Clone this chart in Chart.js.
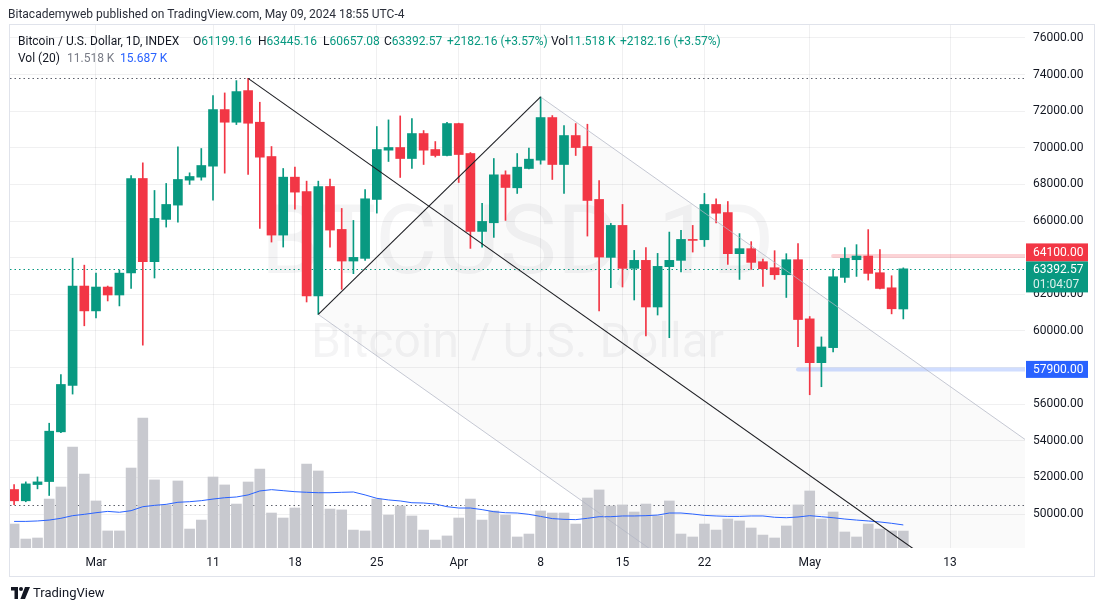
<!DOCTYPE html>
<html>
<head>
<meta charset="utf-8">
<script src="https://cdn.jsdelivr.net/npm/chart.js@4.4.1/dist/chart.umd.min.js"></script>
<style>
  body { margin: 0; background: #fff; }
  #wrap { position: relative; width: 1102px; height: 612px; font-family: Roboto, "Liberation Sans", sans-serif; color: #131722; }
  #wrap canvas { position: absolute; left: 0; top: 0; }
  .t { position: absolute; font-size: 12px; white-space: nowrap; line-height: 14px; }
  .g { color: #089981; }
  .gr { color: #787b86; }
  .b { color: #2962ff; }
</style>
</head>
<body>
<div id="wrap">
  <canvas id="chart" width="1102" height="612"></canvas>
  <div class="t" style="left:8px;top:7px;color:#2a2e39">Bitacademyweb published on TradingView.com, May 09, 2024 18:55 UTC-4</div>
  <div class="t" style="left:18px;top:34px">Bitcoin / U.S. Dollar, 1D, INDEX</div>
  <div class="t" style="left:193px;top:34px">O<span class="g">61199.16</span></div>
  <div class="t" style="left:258px;top:34px">H<span class="g">63445.16</span></div>
  <div class="t" style="left:323px;top:34px">L<span class="g">60657.08</span></div>
  <div class="t" style="left:384px;top:34px">C<span class="g">63392.57</span></div>
  <div class="t g" style="left:447px;top:34px">+2182.16 (+3.57%)</div>
  <div class="t" style="left:551px;top:34px">Vol<span class="g">11.518 K</span></div>
  <div class="t g" style="left:620px;top:34px">+2182.16 (+3.57%)</div>
  <div class="t" style="left:18px;top:51px">Vol (20)</div>
  <div class="t gr" style="left:67px;top:51px">11.518 K</div>
  <div class="t b" style="left:120px;top:51px">15.687 K</div>
  <svg style="position:absolute;left:11px;top:587px" width="20" height="12" viewBox="0 0 20 12">
    <path d="M0 0h7v12h-3.5v-8.5h-3.5z" fill="#131722"/>
    <circle cx="10" cy="2" r="2" fill="#131722"/>
    <path d="M14 0h5l-5 12h-4.6z" fill="#131722"/>
  </svg>
  <div class="t" style="left:33px;top:586px;font-size:13px">TradingView</div>
</div>
<script>
// index 0 = 2024-02-23, one candle per day up to 2024-05-09
var open = [51339, 50723, 51611, 51774, 54489, 57023, 62452, 61095, 62398, 61964,
  63164, 68327, 63782, 66091, 66873, 68236, 68400, 69000, 72091, 71400,
  73127, 71400, 69527, 65236, 68400, 67618, 61909, 67891, 65545, 63818,
  63964, 67182, 69873, 70018, 69418, 70782, 69909, 69582, 71327, 69691,
  65436, 65909, 68527, 67818, 68873, 69327, 71655, 69091, 70673, 70073,
  67182, 64018, 65764, 63418, 63855, 61309, 63509, 63855, 65000, 64982,
  66909, 66466, 64220, 64494, 63782, 63453, 63070, 63891, 60660, 58268,
  59089, 62924, 63891, 64092, 63180, 62357, 61199.16];
var high = [51610, 51756, 52027, 54960, 57620, 63973, 63593, 63158, 62452, 63321,
  68490, 69182, 67673, 68055, 70054, 68636, 69964, 72855, 73000, 73673,
  73794, 72491, 70073, 68873, 68945, 68182, 68182, 68291, 66691, 66036,
  67727, 71164, 71527, 71745, 71600, 70945, 70345, 71400, 71350, 69745,
  66964, 69418, 68745, 69691, 69982, 72780, 71764, 71218, 71327, 71291,
  68218, 65873, 66909, 64400, 64560, 64236, 65400, 65491, 65764, 67509,
  67215, 67069, 65316, 64877, 63928, 64384, 64220, 64768, 60787, 59674,
  63380, 64549, 64713, 65535, 64439, 63015, 63445.16];
var low = [50506, 50670, 51375, 51013, 54450, 56552, 60281, 60715, 61638, 61367,
  62327, 59224, 62891, 65673, 65945, 68000, 68236, 67145, 68618, 71273,
  68545, 65600, 64855, 64582, 66655, 61582, 60900, 64582, 62273, 63127,
  63855, 66436, 69255, 68382, 68873, 69091, 69500, 69560, 68109, 64509,
  64582, 65109, 66036, 67509, 68850, 69109, 68273, 67509, 69582, 65182,
  61091, 62364, 62400, 61691, 59725, 60870, 59630, 63218, 64309, 64618,
  65900, 63636, 62814, 63362, 62430, 62814, 61828, 59144, 56515, 56953,
  58852, 62650, 62978, 62778, 62300, 60933, 60657.08];
var close = [50723, 51647, 51756, 54525, 57077, 62452, 61095, 62398, 61964, 63158,
  68327, 63782, 66146, 66909, 68273, 68436, 69036, 72091, 71400, 73073,
  71345, 69491, 65236, 68400, 67582, 61909, 67891, 65509, 63818, 64018,
  67218, 69909, 70018, 69418, 70782, 69873, 69582, 71327, 69636, 65436,
  65982, 68527, 67836, 68945, 69382, 71655, 69091, 70673, 70018, 67127,
  64036, 65764, 63418, 63855, 61309, 63527, 63855, 65000, 64945, 66909,
  66430, 64220, 64494, 63745, 63398, 63070, 63891, 60623, 58268, 59126,
  62960, 63964, 64092, 63143, 62321, 61210.41, 63392.57];
// volume in thousands
var volume = [16.3, 6.1, 6.8, 33.3, 41.5, 68.7, 50.3, 32.0, 11.6, 11.6,
  54.4, 88.4, 46.3, 29.3, 45.6, 12.9, 19.0, 48.3, 42.9, 29.9,
  44.9, 53.7, 23.8, 20.4, 27.2, 57.1, 52.4, 26.5, 25.9, 12.2,
  11.6, 33.3, 22.4, 28.6, 21.8, 12.2, 5.4, 8.2, 20.4, 33.3,
  19.0, 25.2, 22.4, 7.5, 9.5, 25.2, 23.8, 23.8, 16.3, 34.0,
  39.5, 28.6, 29.3, 24.5, 29.9, 21.8, 32.0, 9.5, 7.5, 16.3,
  12.2, 19.7, 18.4, 13.6, 8.8, 6.8, 15.0, 29.3, 38.8, 19.7,
  24.5, 10.9, 7.5, 16.3, 12.9, 11.6, 11.518];
var volMA = [18.1, 18.1, 18.4, 19.0, 20.2, 22.0, 22.9, 24.0, 24.9, 24.3,
  25.4, 28.1, 29.0, 29.7, 31.1, 31.5, 32.2, 33.3, 34.2, 34.7,
  36.1, 38.8, 39.7, 39.0, 38.3, 37.9, 37.6, 37.6, 37.9, 38.1,
  36.1, 33.8, 32.7, 32.0, 30.8, 30.6, 29.9, 28.1, 27.2, 27.2,
  26.1, 24.7, 24.0, 23.8, 22.9, 21.5, 20.0, 19.5, 19.3, 20.2,
  21.3, 21.3, 21.8, 21.8, 22.0, 22.4, 23.8, 23.8, 23.1, 22.2,
  21.8, 21.5, 21.5, 21.8, 21.8, 20.9, 20.6, 21.1, 22.0, 21.3,
  20.6, 19.7, 19.0, 18.4, 17.7, 16.8, 15.687];

var dateTickIdx = [7, 17, 24, 31, 38, 45, 52, 59, 68, 80];
var dateTickLabels = ['Mar', '11', '18', '25', 'Apr', '8', '15', '22', 'May', '13'];
var priceTicks = [50000, 52000, 54000, 56000, 58000, 60000, 62000, 64000, 66000, 68000, 70000, 72000, 74000, 76000];

// drawings (day index, price)
var trendDown = [[20, 73794], [80, 46685]];
var trendUp = [[26, 60900], [45, 72780]];
var channelSlope = -451.8; // price per day
var resistance = 64100, resistanceFrom = 70;
var support = 57900, supportFrom = 67;
var countdown = '01:04:07';

var GREEN = '#089981', RED = '#f23645';
var FONT = 'Roboto, "Liberation Sans", sans-serif';

var colors = close.map(function (c, i) { return c >= open[i] ? GREEN : RED; });
var bodies = open.map(function (o, i) { return { x: i, y: [o, close[i]] }; });
var wicks = low.map(function (l, i) { return { x: i, y: [l, high[i]] }; });
var vols = volume.map(function (v, i) { return { x: i, y: v }; });
var mas = volMA.map(function (v, i) { return { x: i, y: v }; });
var hiPrice = Math.max.apply(null, high), loPrice = Math.min.apply(null, low);
var last = close[close.length - 1];

function clipArea(ctx, a) {
  ctx.beginPath();
  ctx.rect(a.left, a.top, a.right - a.left, a.bottom - a.top);
  ctx.clip();
}

var backPlugin = {
  id: 'back',
  beforeDatasetsDraw: function (chart) {
    var ctx = chart.ctx, a = chart.chartArea, x = chart.scales.x, y = chart.scales.y;
    ctx.save();
    clipArea(ctx, a);
    // watermark
    var cx = (a.left + a.right) / 2;
    ctx.fillStyle = 'rgba(42,46,57,0.05)';
    ctx.textAlign = 'center';
    ctx.textBaseline = 'middle';
    ctx.font = '96px ' + FONT;
    ctx.fillText('BTCUSD, 1D', cx, 249);
    ctx.font = '48px ' + FONT;
    ctx.fillText('Bitcoin / U.S. Dollar', cx, 345);
    // channel fill
    var far = 100;
    ctx.beginPath();
    ctx.moveTo(x.getPixelForValue(trendUp[0][0]), y.getPixelForValue(trendUp[0][1]));
    ctx.lineTo(x.getPixelForValue(trendUp[1][0]), y.getPixelForValue(trendUp[1][1]));
    ctx.lineTo(x.getPixelForValue(far), y.getPixelForValue(trendUp[1][1] + channelSlope * (far - trendUp[1][0])));
    ctx.lineTo(x.getPixelForValue(far), y.getPixelForValue(trendUp[0][1] + channelSlope * (far - trendUp[0][0])));
    ctx.closePath();
    ctx.fillStyle = 'rgba(42,46,57,0.025)';
    ctx.fill();
    // high / low / last price dotted lines
    ctx.setLineDash([1.5, 3]);
    ctx.lineWidth = 1;
    [[hiPrice, '#5d606b'], [loPrice, '#5d606b'], [last, GREEN]].forEach(function (p) {
      var py = Math.round(y.getPixelForValue(p[0])) + 0.5;
      ctx.strokeStyle = p[1];
      ctx.beginPath();
      ctx.moveTo(a.left, py);
      ctx.lineTo(a.right, py);
      ctx.stroke();
    });
    ctx.setLineDash([]);
    // horizontal levels
    [[resistance, resistanceFrom, 'rgba(242,54,69,0.22)'], [support, supportFrom, 'rgba(41,98,255,0.22)']].forEach(function (l) {
      var py = y.getPixelForValue(l[0]);
      ctx.strokeStyle = l[2];
      ctx.lineWidth = 4;
      ctx.lineCap = 'round';
      ctx.beginPath();
      ctx.moveTo(x.getPixelForValue(l[1]), py);
      ctx.lineTo(a.right + 4, py);
      ctx.stroke();
    });
    ctx.restore();
  }
};

var drawPlugin = {
  id: 'drawings',
  afterDatasetsDraw: function (chart) {
    var ctx = chart.ctx, a = chart.chartArea, x = chart.scales.x, y = chart.scales.y;
    function seg(p, q) {
      ctx.beginPath();
      ctx.moveTo(x.getPixelForValue(p[0]), y.getPixelForValue(p[1]));
      ctx.lineTo(x.getPixelForValue(q[0]), y.getPixelForValue(q[1]));
      ctx.stroke();
    }
    ctx.save();
    clipArea(ctx, a);
    var far = 100;
    ctx.strokeStyle = 'rgba(178,181,196,0.75)';
    ctx.lineWidth = 1;
    seg(trendUp[1], [far, trendUp[1][1] + channelSlope * (far - trendUp[1][0])]);
    seg(trendUp[0], [far, trendUp[0][1] + channelSlope * (far - trendUp[0][0])]);
    ctx.strokeStyle = '#1e1f24';
    ctx.lineWidth = 1.1;
    seg(trendDown[0], trendDown[1]);
    seg(trendUp[0], trendUp[1]);
    ctx.restore();
  },
  afterDraw: function (chart) {
    var ctx = chart.ctx, a = chart.chartArea, y = chart.scales.y;
    ctx.save();
    // frame
    ctx.strokeStyle = '#e0e3eb';
    ctx.lineWidth = 1;
    ctx.strokeRect(9.5, 24.5, 1085, 552);
    // price labels on the axis
    var x0 = a.right + 1, w = 62;
    var r = { c: y.getPixelForValue(resistance), h: 18 };
    var t = { c: y.getPixelForValue(last), h: 31 };
    var gap = (r.c + r.h / 2) - (t.c - t.h / 2);
    if (gap > 0) { r.c -= gap * 0.3; t.c += gap * 0.7; }
    var s = { c: y.getPixelForValue(support), h: 17 };
    ctx.font = '12px ' + FONT;
    ctx.textBaseline = 'middle';
    ctx.textAlign = 'left';
    function box(b, col) {
      ctx.fillStyle = col;
      ctx.fillRect(x0, b.c - b.h / 2, w, b.h);
    }
    box(r, RED);
    box(t, GREEN);
    box(s, '#2962ff');
    ctx.fillStyle = '#ffffff';
    ctx.fillText(resistance.toFixed(2), a.right + 8, r.c + 0.5);
    ctx.fillText(support.toFixed(2), a.right + 8, s.c + 0.5);
    ctx.fillText(last.toFixed(2), a.right + 8, t.c - 7);
    ctx.fillStyle = 'rgba(255,255,255,0.85)';
    ctx.fillText(countdown, a.right + 8, t.c + 8);
    ctx.restore();
  }
};

new Chart(document.getElementById('chart'), {
  type: 'bar',
  data: {
    datasets: [
      { type: 'bar', data: vols, yAxisID: 'v', backgroundColor: '#c8c9cf', barThickness: 10, grouped: false, order: 4 },
      { type: 'line', data: mas, yAxisID: 'v', borderColor: '#2962ff', borderWidth: 1, pointRadius: 0, tension: 0, order: 3 },
      { type: 'bar', data: wicks, yAxisID: 'y', backgroundColor: colors, barThickness: 1, grouped: false, order: 2 },
      { type: 'bar', data: bodies, yAxisID: 'y', backgroundColor: colors, barThickness: 9, minBarLength: 1, grouped: false, order: 1 }
    ]
  },
  options: {
    responsive: false,
    animation: false,
    layout: { padding: { left: 10, top: 25, right: 8, bottom: 36 } },
    plugins: { legend: { display: false }, tooltip: { enabled: false } },
    scales: {
      x: {
        type: 'linear', min: -0.35, max: 86.4, offset: false,
        afterBuildTicks: function (s) { s.ticks = dateTickIdx.map(function (v) { return { value: v }; }); },
        afterFit: function (s) { s.height = 28; },
        ticks: {
          autoSkip: false, maxRotation: 0, padding: 8, color: '#131722', font: { family: FONT, size: 12 },
          callback: function (v) { return dateTickLabels[dateTickIdx.indexOf(v)]; }
        },
        grid: { color: 'rgba(42,46,57,0.07)', drawTicks: false, offset: false },
        border: { display: false }
      },
      y: {
        position: 'right', min: 48145, max: 76710,
        afterBuildTicks: function (s) { s.ticks = priceTicks.map(function (v) { return { value: v }; }); },
        afterFit: function (s) { s.width = 69; },
        ticks: { padding: 8, color: '#131722', font: { family: FONT, size: 12 }, callback: function (v) { return v.toFixed(2); } },
        grid: { color: 'rgba(42,46,57,0.07)', drawTicks: false },
        border: { display: false }
      },
      v: { display: false, min: 0, max: 355.8 }
    }
  },
  plugins: [backPlugin, drawPlugin]
});
</script>
</body>
</html>
